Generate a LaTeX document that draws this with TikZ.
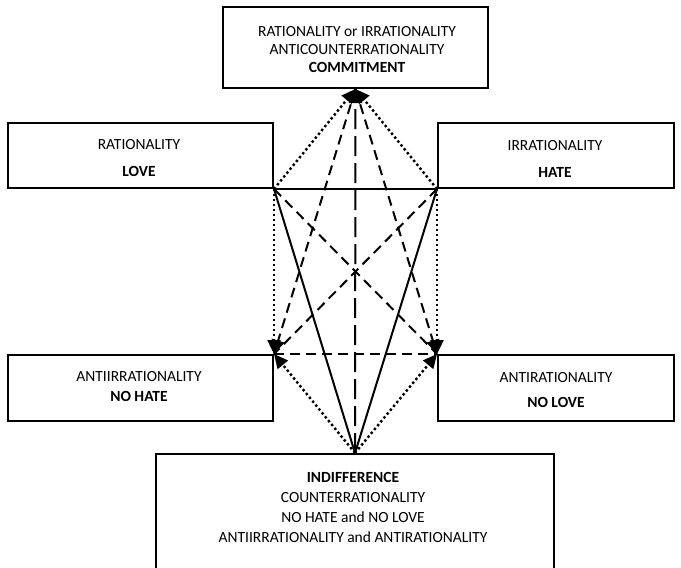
\documentclass[tikz,border=0pt]{standalone}
\usepackage{fontspec}
\setmainfont{Carlito}
\usetikzlibrary{arrows.meta}
\begin{document}
\begin{tikzpicture}[x=1pt,y=-1pt,
  box/.style={draw, line width=2pt, inner sep=0pt, anchor=north west},
  lbl/.style={align=center, inner sep=0pt},
  link/.style={line width=2pt, line cap=butt},
  tip/.style={-{Triangle[length=14pt,width=13pt]}},
  dotline/.style={link, line width=2.4pt, dash pattern=on 2.4pt off 2.6pt},
  dashline/.style={link, dash pattern=on 10pt off 6pt},
  longdash/.style={link, dash pattern=on 20pt off 7pt}
]
\useasboundingbox (0,0) rectangle (681,568);
\clip (0,0) rectangle (681,568);

% boxes
\node[box, minimum width=265pt, minimum height=81pt] (top) at (222,6) {};
\node[box, minimum width=265pt, minimum height=65pt] (love) at (7,122) {};
\node[box, minimum width=236pt, minimum height=65pt] (hate) at (437,122) {};
\node[box, minimum width=265pt, minimum height=66pt] (nohate) at (7,354) {};
\node[box, minimum width=236pt, minimum height=66pt] (nolove) at (437,354) {};
\node[box, minimum width=398pt, minimum height=150pt] (indiff) at (155,453) {};

% labels
\node[lbl, font=\fontsize{15.5}{18}\selectfont] (ttop) at (357,50)
  {RATIONALITY or IRRATIONALITY\\ANTICOUNTERRATIONALITY\\\textbf{COMMITMENT}};
\node[lbl, font=\fontsize{15.5}{27}\selectfont] (tlove) at (139,158.5)
  {RATIONALITY\\\textbf{LOVE}};
\node[lbl, font=\fontsize{15.5}{27}\selectfont] (thate) at (555,158.5)
  {IRRATIONALITY\\\textbf{HATE}};
\node[lbl, font=\fontsize{15.5}{20}\selectfont] (tnohate) at (139,387)
  {ANTIIRRATIONALITY\\\textbf{NO HATE}};
\node[lbl, font=\fontsize{15.5}{25}\selectfont] (tnolove) at (556,390.5)
  {ANTIRATIONALITY\\\textbf{NO LOVE}};
\node[lbl, font=\fontsize{15.5}{20}\selectfont] (tindiff) at (353,507)
  {\textbf{INDIFFERENCE}\\COUNTERRATIONALITY\\NO HATE and NO LOVE\\ANTIIRRATIONALITY and ANTIRATIONALITY};

% solid connectors
\draw[link] (love.south east) -- (hate.south west);
\draw[link] (love.south east) -- (indiff.north);
\draw[link] (hate.south west) -- (indiff.north);

% dashed connectors
\draw[dashline] (love.south east) -- (nolove.north west);
\draw[dashline] (hate.south west) -- (nohate.north east);
\draw[dashline] (nohate.north east) -- (nolove.north west);
\draw[dashline, tip] (top.south) -- (nohate.north east);
\draw[dashline, tip] (top.south) -- (nolove.north west);
\draw[longdash, tip] (indiff.north) -- (top.south);

% dotted connectors
\draw[dotline, tip] (love.south east) -- (top.south);
\draw[dotline, tip] (hate.south west) -- (top.south);
\draw[dotline, tip] (love.south east) -- (nohate.north east);
\draw[dotline, tip] (hate.south west) -- (nolove.north west);
\draw[dotline, tip] (indiff.north) -- (nohate.north east);
\draw[dotline, tip] (indiff.north) -- (nolove.north west);
\end{tikzpicture}
\end{document}
